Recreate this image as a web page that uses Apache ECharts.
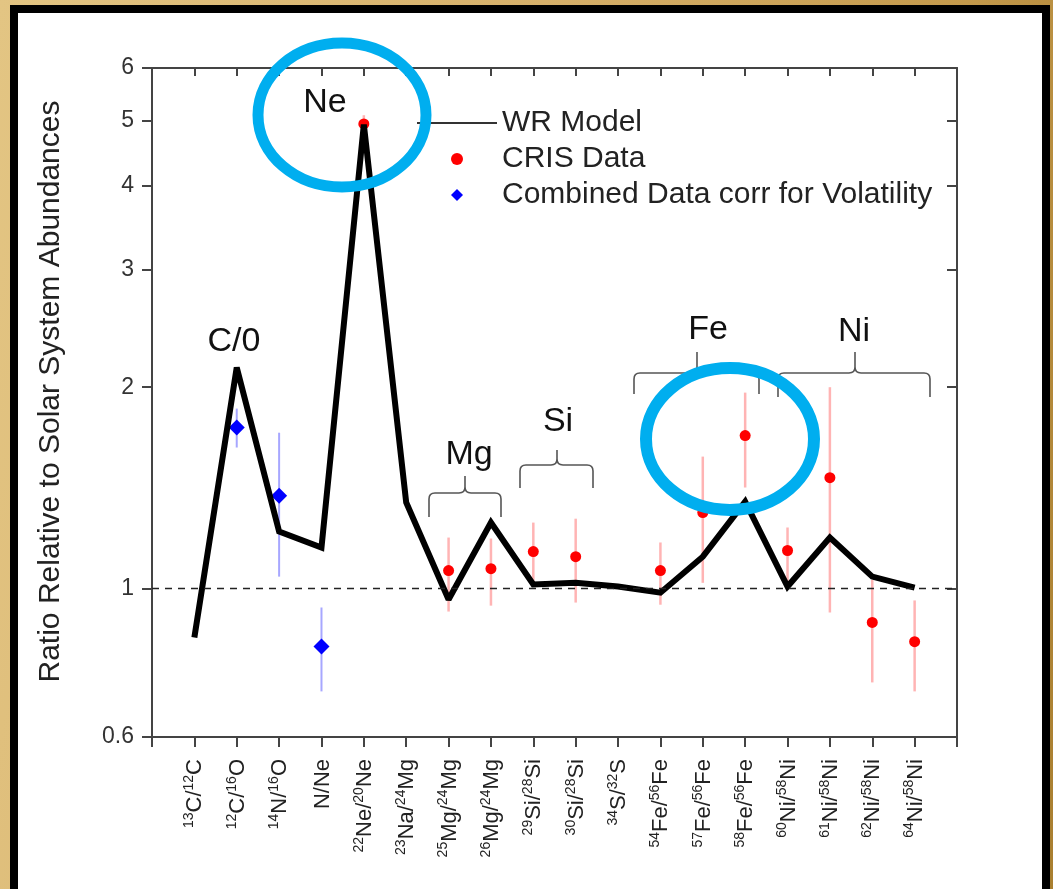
<!DOCTYPE html>
<html>
<head>
<meta charset="utf-8" />
<title>WR Model vs CRIS</title>
<script src="https://cdn.jsdelivr.net/npm/echarts@6/dist/echarts.min.js"></script>
<style>
  html, body { margin: 0; padding: 0; width: 1053px; height: 889px; overflow: hidden;
    background: linear-gradient(100deg, #e3c583 0%, #d6b06a 45%, #c49a4c 80%, #a97f30 100%); }
  #frame { position: absolute; left: 10px; top: 5px; width: 1040px; height: 920px;
    box-sizing: border-box; border: 8px solid #000; background: #fff; }
  #main { position: absolute; left: 0; top: 0; width: 1053px; height: 889px; }
</style>
</head>
<body>
<div id="frame"></div>
<div id="main"></div>
<script type="text/javascript">
    // isotope ratios along the x axis
    var categories = ['13C/12C', '12C/16O', '14N/16O', 'N/Ne', '22Ne/20Ne', '23Na/24Mg', '25Mg/24Mg', '26Mg/24Mg',
        '29Si/28Si', '30Si/28Si', '34S/32S', '54Fe/56Fe', '57Fe/56Fe', '58Fe/56Fe', '60Ni/58Ni', '61Ni/58Ni',
        '62Ni/58Ni', '64Ni/58Ni'];
    // WR model curve
    var wrModel = [0.845, 2.14, 1.217, 1.152, 4.94, 1.345, 0.963, 1.255, 1.014, 1.02, 1.007, 0.986, 1.116, 1.349,
        1.007, 1.192, 1.042, 1.003];
    // CRIS data with error bars
    var crisData = [null, null, null, null, 4.95, null, 1.064, 1.071, 1.136, 1.116, null, 1.064, 1.299, 1.693,
        1.140, 1.465, 0.890, 0.833];
    var crisHigh = [null, null, null, null, 5.1, null, 1.192, 1.188, 1.255, 1.272, null, 1.172, 1.575, 1.963,
        1.234, 2.0, 1.03, 0.96];
    var crisLow = [null, null, null, null, 4.8, null, 0.924, 0.943, 1.02, 0.953, null, 0.946, 1.02, 1.416,
        1.0, 0.921, 0.724, 0.702];
    // combined data corrected for volatility
    var combData = [null, 1.741, 1.377, 0.819, null, null, null, null, null, null, null, null, null, null,
        null, null, null, null];
    var combHigh = [null, 1.858, 1.71, 0.937];
    var combLow = [null, 1.625, 1.042, 0.702];
    // y axis tick labels (log scale)
    var yTicks = [0.6, 1, 2, 3, 4, 5, 6];

    var FONT = "'Liberation Sans', Arial, sans-serif";
    function lg(v) { return v == null ? null : Math.log10(v); }
    // one empty slot each side so the first/last ratio sit one step in from the frame
    function pad(arr) { return [null].concat(arr, [null]); }
    var axisCats = [''].concat(categories, ['']);
    function errRows(lo, hi) {
        var rows = [];
        for (var i = 0; i < lo.length; i++) {
            if (lo[i] != null) rows.push([i + 1, lg(lo[i]), lg(hi[i])]);
        }
        return rows;
    }
    function errSeries(rows, color, w) {
        return {
            type: 'custom', data: rows, encode: { x: 0, y: [1, 2] }, silent: true,
            renderItem: function (params, api) {
                var a = api.coord([api.value(0), api.value(1)]);
                var b = api.coord([api.value(0), api.value(2)]);
                return { type: 'line', shape: { x1: a[0], y1: a[1], x2: b[0], y2: b[1] },
                    style: { stroke: color, lineWidth: w } };
            }
        };
    }
    function tickLabel(v) {
        if (!v) return '';
        return v.split(/(\d+)/).map(function (p, i) {
            if (p === '') return '';
            return i % 2 ? '{s|' + p + '}' : '{m|' + p + '}';
        }).join('');
    }
    function brace(x1, x2, xm, yBar, yEnd, yTip) {
        var r = 6;
        return 'M' + x1 + ',' + yEnd + 'L' + x1 + ',' + (yBar + r) + 'Q' + x1 + ',' + yBar + ',' + (x1 + r) + ',' + yBar +
            'L' + (xm - r) + ',' + yBar + 'Q' + xm + ',' + yBar + ',' + xm + ',' + (yBar - r) + 'L' + xm + ',' + yTip +
            'M' + x2 + ',' + yEnd + 'L' + x2 + ',' + (yBar + r) + 'Q' + x2 + ',' + yBar + ',' + (x2 - r) + ',' + yBar +
            'L' + (xm + r) + ',' + yBar + 'Q' + xm + ',' + yBar + ',' + xm + ',' + (yBar - r);
    }
    function note(text, x, y) {
        return { type: 'text', x: x, y: y, z: 50,
            style: { text: text, font: '34px ' + FONT, fill: '#111', align: 'center', verticalAlign: 'middle' } };
    }
    var braces = [
        brace(429, 501, 465, 493, 517, 476),
        brace(520, 593, 557, 465, 488, 450),
        brace(634, 759, 697, 373, 394, 352),
        brace(778, 930, 855, 373, 397, 352)
    ];

    var axisLineStyle = { color: '#444', width: 2 };
    var logTicks = yTicks.map(lg);

    var myChart = echarts.init(document.getElementById('main'));
    var option = {
        animation: false,
        backgroundColor: 'transparent',
        textStyle: { fontFamily: FONT },
        grid: { left: 152, right: 96, top: 68, bottom: 152, outerBoundsMode: 'none' },
        legend: {
            orient: 'vertical', left: 412, top: 103, itemWidth: 80, itemHeight: 12, itemGap: 6,
            selectedMode: false,
            textStyle: { fontSize: 30, color: '#222', fontFamily: FONT, lineHeight: 30 },
            data: [
                { name: 'WR Model', icon: 'path://M0,0H80V2H0Z', itemStyle: { color: '#333' } },
                { name: 'CRIS Data', icon: 'circle' },
                { name: 'Combined Data corr for Volatility', icon: 'path://M6,0L12,6L6,12L0,6Z' }
            ]
        },
        xAxis: [{
            type: 'category', data: axisCats, boundaryGap: false, position: 'bottom',
            axisLine: { onZero: false, lineStyle: axisLineStyle },
            axisTick: { interval: 0, length: 10, lineStyle: axisLineStyle },
            axisLabel: {
                interval: 0, rotate: 90, margin: 22, formatter: tickLabel,
                rich: {
                    m: { fontSize: 22, color: '#222', fontFamily: FONT, lineHeight: 24, verticalAlign: 'bottom' },
                    s: { fontSize: 14, color: '#222', fontFamily: FONT, lineHeight: 24, verticalAlign: 'top' }
                }
            }
        }, {
            type: 'category', data: axisCats, boundaryGap: false, position: 'top',
            axisLine: { onZero: false, lineStyle: axisLineStyle },
            axisTick: { interval: 0, inside: true, length: 8, lineStyle: axisLineStyle },
            axisLabel: { show: false }
        }],
        yAxis: [{
            type: 'value', min: lg(0.6), max: lg(6), position: 'left',
            axisLine: { show: true, onZero: false, lineStyle: axisLineStyle },
            axisTick: { show: true, length: 10, customValues: logTicks, lineStyle: axisLineStyle },
            axisLabel: {
                customValues: logTicks, fontSize: 23, color: '#333', margin: 18,
                formatter: function (v) { return String(Math.round(Math.pow(10, v) * 10) / 10); }
            },
            splitLine: { show: false },
            name: 'Ratio Relative to Solar System Abundances', nameLocation: 'middle', nameGap: 86,
            nameTextStyle: { fontSize: 30, color: '#222', padding: [0, 0, 0, 22] }
        }, {
            type: 'value', min: lg(0.6), max: lg(6), position: 'right',
            axisLine: { show: true, onZero: false, lineStyle: axisLineStyle },
            axisTick: { show: true, inside: true, length: 10, customValues: logTicks, lineStyle: axisLineStyle },
            axisLabel: { show: false },
            splitLine: { show: false }
        }],
        graphic: [
            { type: 'ellipse', z: 100, shape: { cx: 342, cy: 115, rx: 84, ry: 72 },
                style: { fill: 'none', stroke: '#00AEEF', lineWidth: 11 } },
            { type: 'ellipse', z: 100, shape: { cx: 730, cy: 439, rx: 84, ry: 71 },
                style: { fill: 'none', stroke: '#00AEEF', lineWidth: 12 } },
            note('C/0', 234, 342), note('Ne', 325, 103), note('Mg', 469, 455),
            note('Si', 558, 422), note('Fe', 708, 330), note('Ni', 854, 332)
        ],
        series: [
            errSeries(errRows(crisLow, crisHigh), 'rgba(255,40,40,0.35)', 2.5),
            errSeries(errRows(combLow, combHigh), 'rgba(60,60,255,0.45)', 2),
            {
                name: 'WR Model', type: 'line', data: pad(wrModel).map(lg), showSymbol: false, symbol: 'none',
                lineStyle: { color: '#000', width: 6, join: 'miter', miterLimit: 2 }, itemStyle: { color: '#000' },
                markLine: {
                    silent: true, symbol: 'none', label: { show: false },
                    lineStyle: { color: '#222', type: [7, 6], width: 1.3 },
                    data: [{ yAxis: 0 }]
                }
            },
            {
                name: 'CRIS Data', type: 'scatter', data: pad(crisData).map(lg), symbol: 'circle', symbolSize: 11,
                itemStyle: { color: '#ff0000', opacity: 1 }
            },
            {
                name: 'Combined Data corr for Volatility', type: 'scatter', data: pad(combData).map(lg),
                symbol: 'diamond', symbolSize: 16, itemStyle: { color: '#0000ff', opacity: 1 }
            },
            {
                // group braces drawn above the curve
                type: 'custom', coordinateSystem: 'none', data: [0], silent: true, z: 40,
                renderItem: function () {
                    return {
                        type: 'group',
                        children: braces.map(function (d) {
                            return { type: 'path', shape: { pathData: d },
                                style: { fill: 'none', stroke: '#555', lineWidth: 1.6 } };
                        })
                    };
                }
            }
        ]
    };
    myChart.setOption(option);
</script>
</body>
</html>
